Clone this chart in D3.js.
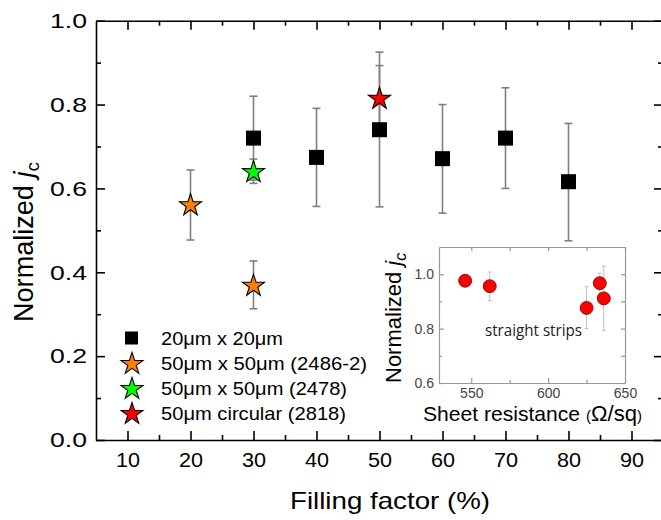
<!DOCTYPE html>
<html>
<head>
<meta charset="utf-8">
<script src="https://cdn.jsdelivr.net/npm/d3@7"></script>
<style>
html,body{margin:0;padding:0;background:#fff;}
svg{display:block;font-family:"Liberation Sans",Arial,sans-serif;}
</style>
</head>
<body>
<svg id="chart" width="661" height="520"></svg>
<script>
// ---------- data ----------
const xTicks = [10, 20, 30, 40, 50, 60, 70, 80, 90];
const xMinor = [15, 25, 35, 45, 55, 65, 75, 85];
const yTicks = [0, 0.2, 0.4, 0.6, 0.8, 1.0];
const yMinor = [0.1, 0.3, 0.5, 0.7, 0.9];

const sqX  = [30, 40, 50, 60, 70, 80];
const sqY  = [0.720, 0.674, 0.740, 0.671, 0.720, 0.616];
const sqLo = [0.620, 0.557, 0.556, 0.541, 0.600, 0.475];
const sqHi = [0.820, 0.791, 0.925, 0.800, 0.840, 0.755];

const orX  = [20, 30];
const orY  = [0.562, 0.370];
const orLo = [0.477, 0.313];
const orHi = [0.644, 0.427];

const grX  = [30];
const grY  = [0.641];
const grLo = [0.612];
const grHi = [0.670];

const rdX  = [50];
const rdY  = [0.816];
const rdLo = [0.739];
const rdHi = [0.893];

const legendLabels = ["20\u03bcm x 20\u03bcm", "50\u03bcm x 50\u03bcm (2486-2)", "50\u03bcm x 50\u03bcm (2478)", "50\u03bcm circular (2818)"];

// inset
const inX  = [546, 562, 625, 633.6, 636.2];
const inY  = [0.976, 0.956, 0.876, 0.967, 0.911];
const inLo = [0.955, 0.903, 0.800, 0.930, 0.793];
const inHi = [0.990, 1.008, 0.954, 1.004, 1.030];
const inXTicks = [550, 600, 650];
const inXMinor = [575, 625];
const inYTicks = [0.6, 0.8, 1.0];
const inYMinor = [0.7, 0.9];

// ---------- layout ----------
const legendWidths = [122, 206, 186, 185];

const svg = d3.select("#chart");
const x = d3.scaleLinear().domain([5, 95]).range([96, 663]);
const y = d3.scaleLinear().domain([0, 1]).range([440, 20.7]);
const L = 96, R = 663, T = 20.7, B = 440;

const fmt = d3.format(".1f");

function styleAxis(g, color, w) {
  g.select(".domain").attr("stroke", color).attr("stroke-width", w);
  g.selectAll(".tick line").attr("stroke", color).attr("stroke-width", w);
}

const gxB = svg.append("g").attr("transform", `translate(0,${B})`)
  .call(d3.axisBottom(x).tickValues(xTicks).tickSizeInner(-9).tickSizeOuter(0).tickPadding(12.5));
styleAxis(gxB, "#000", 1.6);
gxB.selectAll(".tick text").attr("font-size", 20).attr("fill", "#000")
  .attr("font-family", "Liberation Sans, Arial, sans-serif")
  .attr("textLength", 24).attr("lengthAdjust", "spacingAndGlyphs");
const gxBm = svg.append("g").attr("transform", `translate(0,${B})`)
  .call(d3.axisBottom(x).tickValues(xMinor).tickSizeInner(-5).tickSizeOuter(0).tickFormat(""));
styleAxis(gxBm, "#000", 1.6); gxBm.select(".domain").remove();

const gxT = svg.append("g").attr("transform", `translate(0,${T})`)
  .call(d3.axisTop(x).tickValues(xTicks).tickSizeInner(-9).tickSizeOuter(0).tickFormat(""));
styleAxis(gxT, "#000", 1.6);
const gxTm = svg.append("g").attr("transform", `translate(0,${T})`)
  .call(d3.axisTop(x).tickValues(xMinor).tickSizeInner(-5).tickSizeOuter(0).tickFormat(""));
styleAxis(gxTm, "#000", 1.6); gxTm.select(".domain").remove();

const gyL = svg.append("g").attr("transform", `translate(${L},0)`)
  .call(d3.axisLeft(y).tickValues(yTicks).tickSizeInner(-9).tickSizeOuter(0).tickPadding(9).tickFormat(fmt));
styleAxis(gyL, "#000", 1.6);
gyL.selectAll(".tick text").attr("font-size", 21).attr("fill", "#000")
  .attr("font-family", "Liberation Sans, Arial, sans-serif")
  .attr("textLength", 37).attr("lengthAdjust", "spacingAndGlyphs");
const gyLm = svg.append("g").attr("transform", `translate(${L},0)`)
  .call(d3.axisLeft(y).tickValues(yMinor).tickSizeInner(-5).tickSizeOuter(0).tickFormat(""));
styleAxis(gyLm, "#000", 1.6); gyLm.select(".domain").remove();

const gyR = svg.append("g").attr("transform", `translate(${R},0)`)
  .call(d3.axisRight(y).tickValues(yTicks).tickSizeInner(-9).tickSizeOuter(0).tickFormat(""));
styleAxis(gyR, "#000", 1.6);
const gyRm = svg.append("g").attr("transform", `translate(${R},0)`)
  .call(d3.axisRight(y).tickValues(yMinor).tickSizeInner(-5).tickSizeOuter(0).tickFormat(""));
styleAxis(gyRm, "#000", 1.6); gyRm.select(".domain").remove();

// axis titles
svg.append("text").attr("x", 390).attr("y", 509).attr("text-anchor", "middle")
  .attr("font-size", 24).attr("fill", "#000")
  .attr("textLength", 200).attr("lengthAdjust", "spacingAndGlyphs")
  .text("Filling factor (%)");

const yt = svg.append("text").attr("transform", "translate(33,322) rotate(-90)")
  .attr("font-size", 27).attr("fill", "#000").attr("textLength", 160).attr("lengthAdjust", "spacingAndGlyphs");
yt.append("tspan").text("Normalized ");
yt.append("tspan").attr("font-style", "italic").text("j");
yt.append("tspan").attr("font-size", 19).attr("dy", 6).text("c");

// error bars
function errBars(xs, lo, hi, color, w, cap) {
  const g = svg.append("g");
  xs.forEach((xv, i) => {
    g.append("line").attr("x1", x(xv)).attr("x2", x(xv)).attr("y1", y(lo[i])).attr("y2", y(hi[i]))
      .attr("stroke", color).attr("stroke-width", w);
    [lo[i], hi[i]].forEach(v => g.append("line").attr("x1", x(xv) - cap).attr("x2", x(xv) + cap)
      .attr("y1", y(v)).attr("y2", y(v)).attr("stroke", color).attr("stroke-width", w));
  });
}
errBars(sqX, sqLo, sqHi, "#808080", 1.6, 4);
errBars(orX, orLo, orHi, "#808080", 1.6, 4);
errBars(grX, grLo, grHi, "#808080", 1.6, 4);
errBars(rdX, rdLo, rdHi, "#808080", 1.6, 4);

// squares
svg.append("g").selectAll("rect").data(sqX).join("rect")
  .attr("x", d => x(d) - 7.5).attr("y", (d, i) => y(sqY[i]) - 7.5)
  .attr("width", 15).attr("height", 15).attr("fill", "#000");

// stars
const star = d3.symbol().type(d3.symbolStar).size(150);
function stars(xs, ys, fill) {
  svg.append("g").selectAll("path").data(xs).join("path")
    .attr("transform", (d, i) => `translate(${x(d)},${y(ys[i]) + 1})`)
    .attr("d", star).attr("fill", fill).attr("stroke", "#000").attr("stroke-width", 1.1);
}
stars(orX, orY, "#ff8000");
stars(grX, grY, "#00ff00");
stars(rdX, rdY, "#ff0000");

// legend
const legY = [338, 363, 388, 413];
const leg = svg.append("g");
leg.append("rect").attr("x", 125).attr("y", legY[0] - 6.5).attr("width", 13).attr("height", 13).attr("fill", "#000");
["#ff8000", "#00ff00", "#ff0000"].forEach((c, i) => {
  leg.append("path").attr("transform", `translate(132,${legY[i + 1] + 1})`)
    .attr("d", star).attr("fill", c).attr("stroke", "#000").attr("stroke-width", 1.1);
});
leg.selectAll("text").data(legendLabels).join("text")
  .attr("x", 161).attr("y", (d, i) => legY[i] + 7).attr("font-size", 19).attr("fill", "#000")
  .attr("textLength", (d, i) => legendWidths[i]).attr("lengthAdjust", "spacingAndGlyphs")
  .text(d => d);

// ---------- inset ----------
const ix = d3.scaleLinear().domain([529, 650]).range([439, 625]);
const iy = d3.scaleLinear().domain([0.6, 1.1]).range([383, 247]);
const iL = 439, iR = 625, iT = 247, iB = 383;
const ic = "#999";

svg.append("rect").attr("x", iL).attr("y", iT).attr("width", iR - iL).attr("height", iB - iT)
  .attr("fill", "#fff");

const ixB = svg.append("g").attr("transform", `translate(0,${iB})`)
  .call(d3.axisBottom(ix).tickValues(inXTicks).tickSizeInner(-5).tickSizeOuter(0).tickPadding(5));
styleAxis(ixB, ic, 1.2);
ixB.selectAll(".tick text").attr("font-size", 14).attr("fill", "#444")
  .attr("font-family", "Liberation Sans, Arial, sans-serif");
const ixBm = svg.append("g").attr("transform", `translate(0,${iB})`)
  .call(d3.axisBottom(ix).tickValues(inXMinor).tickSizeInner(-3).tickSizeOuter(0).tickFormat(""));
styleAxis(ixBm, ic, 1.2); ixBm.select(".domain").remove();
const ixT = svg.append("g").attr("transform", `translate(0,${iT})`)
  .call(d3.axisTop(ix).tickValues(inXTicks.concat(inXMinor)).tickSizeInner(-4).tickSizeOuter(0).tickFormat(""));
styleAxis(ixT, ic, 1.2);

const iyL = svg.append("g").attr("transform", `translate(${iL},0)`)
  .call(d3.axisLeft(iy).tickValues(inYTicks).tickSizeInner(-5).tickSizeOuter(0).tickPadding(5).tickFormat(fmt));
styleAxis(iyL, ic, 1.2);
iyL.selectAll(".tick text").attr("font-size", 14).attr("fill", "#444")
  .attr("font-family", "Liberation Sans, Arial, sans-serif");
const iyLm = svg.append("g").attr("transform", `translate(${iL},0)`)
  .call(d3.axisLeft(iy).tickValues(inYMinor).tickSizeInner(-3).tickSizeOuter(0).tickFormat(""));
styleAxis(iyLm, ic, 1.2); iyLm.select(".domain").remove();
const iyR = svg.append("g").attr("transform", `translate(${iR},0)`)
  .call(d3.axisRight(iy).tickValues(inYTicks.concat(inYMinor)).tickSizeInner(-4).tickSizeOuter(0).tickFormat(""));
styleAxis(iyR, ic, 1.2);

// inset error bars + points
const ig = svg.append("g");
inX.forEach((xv, i) => {
  ig.append("line").attr("x1", ix(xv)).attr("x2", ix(xv)).attr("y1", iy(inLo[i])).attr("y2", iy(inHi[i]))
    .attr("stroke", "#c0c0c0").attr("stroke-width", 1);
  [inLo[i], inHi[i]].forEach(v => ig.append("line").attr("x1", ix(xv) - 2).attr("x2", ix(xv) + 2)
    .attr("y1", iy(v)).attr("y2", iy(v)).attr("stroke", "#c0c0c0").attr("stroke-width", 1));
});
ig.selectAll("circle").data(inX).join("circle")
  .attr("cx", d => ix(d)).attr("cy", (d, i) => iy(inY[i])).attr("r", 6.5)
  .attr("fill", "#ff0000").attr("stroke", "#6a0000").attr("stroke-width", 0.8);

svg.append("text").attr("x", 485).attr("y", 336).attr("font-size", 17)
  .attr("font-family", "Open Sans, Lato, sans-serif").attr("fill", "#222")
  .attr("textLength", 97).attr("lengthAdjust", "spacingAndGlyphs").text("straight strips");

const ixt = svg.append("text").attr("x", 423).attr("y", 421).attr("font-size", 21).attr("fill", "#000");
ixt.append("tspan").text("Sheet resistance ");
ixt.append("tspan").attr("font-size", 15).text("(");
ixt.append("tspan").attr("font-size", 22).text("\u03a9/sq");
ixt.append("tspan").attr("font-size", 15).text(")");
ixt.attr("textLength", 219).attr("lengthAdjust", "spacingAndGlyphs");

const iyt = svg.append("text").attr("transform", "translate(401,383) rotate(-90)")
  .attr("font-size", 22).attr("fill", "#000");
iyt.append("tspan").text("Normalized ");
iyt.append("tspan").attr("font-style", "italic").text("j");
iyt.append("tspan").attr("font-size", 16).attr("dy", 5).attr("font-style", "italic").text("c");
</script>
</body>
</html>
